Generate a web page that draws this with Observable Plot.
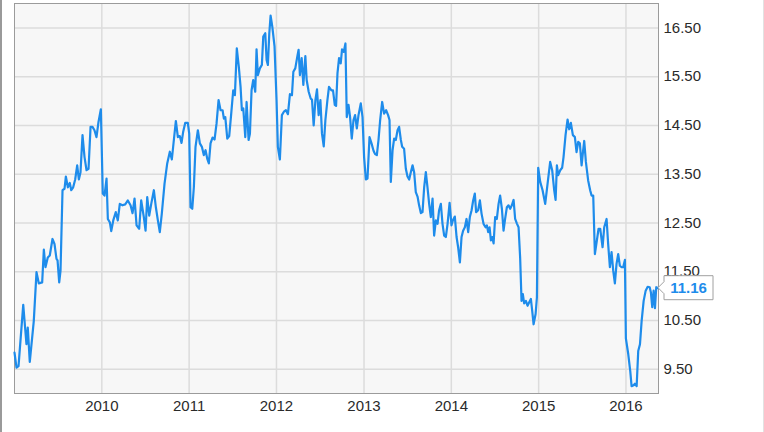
<!DOCTYPE html>
<html><head><meta charset="utf-8">
<script src="https://cdn.jsdelivr.net/npm/d3@7"></script>
<script src="https://cdn.jsdelivr.net/npm/@observablehq/plot@0.6"></script>
<style>
html,body{margin:0;padding:0;background:#fff;}
#wrap{position:relative;width:764px;height:432px;overflow:hidden;}
#wrap svg{display:block;}
.edgeL{position:absolute;left:0;top:0;width:2px;height:432px;background:#9a9a9a;}
.edgeR{position:absolute;right:0;top:0;width:1px;height:432px;background:#e2e2e2;}
</style></head><body><div id="wrap"></div>
<script>
// decimal-year time stamps
const t = [
2009.000,2009.023,2009.046,2009.100,2009.137,2009.152,2009.175,2009.221,2009.252,2009.278,
2009.317,2009.336,2009.355,2009.381,2009.404,2009.435,2009.458,2009.481,2009.493,2009.512,
2009.527,2009.550,2009.573,2009.588,2009.611,2009.633,2009.650,2009.672,2009.695,2009.718,
2009.737,2009.756,2009.779,2009.802,2009.825,2009.848,2009.871,2009.893,2009.916,2009.939,
2009.962,2009.989,2010.011,2010.031,2010.054,2010.069,2010.092,2010.108,2010.131,2010.160,
2010.183,2010.206,2010.237,2010.268,2010.298,2010.329,2010.352,2010.375,2010.398,2010.428,
2010.451,2010.481,2010.501,2010.520,2010.543,2010.566,2010.596,2010.619,2010.642,2010.664,
2010.687,2010.718,2010.749,2010.779,2010.802,2010.825,2010.848,2010.871,2010.893,2010.913,
2010.932,2010.955,2010.985,2011.001,2011.016,2011.036,2011.054,2011.073,2011.100,2011.123,
2011.146,2011.168,2011.188,2011.207,2011.226,2011.245,2011.268,2011.291,2011.314,2011.337,
2011.360,2011.383,2011.398,2011.414,2011.437,2011.459,2011.482,2011.505,2011.524,2011.546,
2011.569,2011.589,2011.604,2011.620,2011.643,2011.658,2011.681,2011.696,2011.715,2011.734,
2011.757,2011.772,2011.787,2011.810,2011.833,2011.849,2011.872,2011.887,2011.902,2011.918,
2011.933,2011.952,2011.978,2012.001,2012.016,2012.039,2012.062,2012.085,2012.108,2012.131,
2012.154,2012.177,2012.193,2012.215,2012.238,2012.253,2012.268,2012.288,2012.307,2012.330,
2012.345,2012.368,2012.391,2012.406,2012.425,2012.445,2012.463,2012.482,2012.502,2012.520,
2012.540,2012.559,2012.582,2012.600,2012.628,2012.646,2012.666,2012.681,2012.697,2012.715,
2012.734,2012.749,2012.769,2012.788,2012.803,2012.823,2012.841,2012.860,2012.880,2012.898,
2012.918,2012.937,2012.963,2012.983,2013.001,2013.021,2013.040,2013.063,2013.086,2013.109,
2013.127,2013.147,2013.166,2013.185,2013.208,2013.230,2013.253,2013.276,2013.292,2013.307,
2013.327,2013.345,2013.364,2013.384,2013.402,2013.422,2013.437,2013.459,2013.479,2013.498,
2013.517,2013.536,2013.556,2013.574,2013.593,2013.613,2013.631,2013.651,2013.670,2013.689,
2013.708,2013.727,2013.746,2013.765,2013.785,2013.803,2013.823,2013.842,2013.860,2013.880,
2013.899,2013.918,2013.937,2013.957,2013.980,2014.002,2014.017,2014.040,2014.060,2014.078,
2014.098,2014.117,2014.135,2014.155,2014.174,2014.193,2014.212,2014.232,2014.250,2014.269,
2014.284,2014.307,2014.327,2014.346,2014.369,2014.392,2014.407,2014.422,2014.438,2014.453,
2014.468,2014.484,2014.502,2014.521,2014.541,2014.559,2014.579,2014.598,2014.616,2014.636,
2014.655,2014.674,2014.693,2014.713,2014.731,2014.750,2014.770,2014.788,2014.804,2014.819,
2014.834,2014.854,2014.873,2014.892,2014.911,2014.926,2014.942,2014.965,2014.980,2014.995,
2015.018,2015.045,2015.075,2015.102,2015.132,2015.155,2015.178,2015.194,2015.209,2015.224,
2015.247,2015.269,2015.285,2015.308,2015.331,2015.350,2015.369,2015.392,2015.415,2015.434,
2015.453,2015.472,2015.492,2015.510,2015.522,2015.541,2015.567,2015.590,2015.606,2015.625,
2015.644,2015.667,2015.686,2015.705,2015.732,2015.751,2015.778,2015.796,2015.816,2015.835,
2015.854,2015.873,2015.892,2015.911,2015.930,2015.950,2015.968,2015.988,2015.999,2016.026,
2016.049,2016.064,2016.087,2016.102,2016.122,2016.140,2016.160,2016.179,2016.202,2016.225,
2016.248,2016.271,2016.285,2016.300,2016.316,2016.331,2016.346,2016.369
];
const price = [
9.84,9.53,9.56,10.82,10.01,10.35,9.65,10.49,11.49,11.26,
11.28,11.95,11.59,11.79,11.83,12.17,12.07,11.76,11.73,11.28,
11.52,13.17,13.20,13.45,13.23,13.32,13.17,13.23,13.39,13.68,
13.39,13.54,14.30,13.85,13.58,13.61,14.47,14.47,14.40,14.26,
14.57,14.83,13.10,13.06,13.41,12.58,12.51,12.33,12.55,12.72,
12.55,12.89,12.86,12.88,12.96,12.86,12.70,13.00,12.45,12.38,
12.96,12.62,12.34,13.03,12.65,12.89,13.17,12.82,12.55,12.31,
12.69,13.30,13.72,13.96,13.80,14.20,14.59,14.26,14.28,14.14,
14.37,14.55,14.55,14.33,12.82,12.79,13.23,14.06,14.40,14.13,
14.06,13.89,13.99,13.82,13.72,14.13,14.25,14.21,14.54,15.02,
14.81,14.81,14.64,14.67,14.23,14.28,14.74,15.22,15.12,16.08,
15.70,15.29,14.81,14.85,14.26,14.98,14.20,14.33,15.22,15.43,
15.19,16.06,15.53,15.67,15.74,16.32,16.39,15.84,15.74,16.39,
16.75,16.53,16.12,15.02,14.06,13.80,14.71,14.78,14.81,14.73,
15.14,15.12,15.60,15.67,15.91,16.05,15.53,15.88,15.33,15.92,
15.43,15.19,15.05,15.03,14.50,15.02,15.24,14.71,15.02,14.33,
14.07,14.61,15.02,15.29,15.22,15.22,14.92,14.90,15.57,15.88,
15.77,16.06,16.01,16.18,14.67,14.92,14.67,14.23,14.61,14.71,
14.44,14.71,14.95,14.67,13.85,13.39,13.41,14.26,14.13,13.98,
13.91,13.89,14.20,14.61,14.98,14.74,14.81,14.71,14.61,13.34,
13.99,14.23,14.20,14.40,14.47,14.20,14.06,14.02,13.61,13.45,
13.39,13.54,13.68,13.54,13.13,13.04,12.86,12.70,12.72,13.23,
13.54,13.23,12.89,12.62,13.00,12.24,12.55,12.48,12.76,12.89,
12.48,12.24,12.21,12.48,12.91,12.45,12.55,12.63,12.21,12.00,
11.69,12.21,12.34,12.41,12.58,12.31,12.62,12.76,12.96,13.10,
12.72,12.76,12.96,12.69,12.48,12.41,12.45,12.31,12.41,12.14,
12.21,12.08,12.62,12.58,12.89,13.06,12.79,12.34,12.58,12.82,
12.86,12.79,12.86,12.97,12.58,12.49,12.41,11.79,10.90,11.04,
10.85,10.90,10.80,10.87,10.94,10.70,10.42,10.63,10.97,13.63,
13.34,13.17,12.89,13.30,13.75,13.58,13.17,12.97,13.68,13.48,
13.58,13.63,13.85,14.30,14.62,14.42,14.55,14.30,14.26,13.95,
14.16,14.13,13.68,13.99,14.18,13.75,13.37,13.17,13.06,13.06,
11.86,12.14,12.38,12.38,12.00,12.41,12.58,12.07,11.59,11.90,
11.52,11.26,11.66,11.86,11.62,11.59,11.59,11.74,10.13,9.81,
9.46,9.15,9.17,9.20,9.15,9.87,10.01,10.49,10.90,11.11,
11.19,11.18,11.07,10.77,11.11,10.75,11.18,11.16
];
const xTicks = ["2010-01-01","2011-01-01","2012-01-01","2013-01-01","2014-01-01","2015-01-01","2016-01-01"];
const yTicks = [9.5, 10.5, 11.5, 12.5, 13.5, 14.5, 15.5, 16.5];
const xDomain = ["2009-01-01", "2016-05-16"];
const yDomain = [9, 17];
const lastLabel = "11.16";

function toDate(v) {
  const y = Math.floor(v);
  const a = Date.UTC(y, 0, 1), b = Date.UTC(y + 1, 0, 1);
  return new Date(a + (v - y) * (b - a));
}
const data = t.map((v, i) => ({date: toDate(v), price: price[i]}));
const last = data[data.length - 1];
const blue = "#1e8ceb";

const callout = (index, scales, values, dimensions) => {
  const g = d3.create("svg:g");
  const x0 = dimensions.width - dimensions.marginRight;
  const py = scales.y(last.price);
  const w = 49, h = 24, a = 6;
  g.append("path")
    .attr("d", `M${x0},${py} L${x0 + a},${py - a} V${py - h / 2} H${x0 + a + w} V${py + h / 2} H${x0 + a} V${py + a} Z`)
    .attr("fill", "#fff").attr("stroke", "#a0a0a0").attr("stroke-width", 1);
  g.append("text")
    .attr("x", x0 + a + w / 2).attr("y", py).attr("dy", "0.35em")
    .attr("text-anchor", "middle")
    .attr("fill", blue).attr("font-weight", "bold").attr("font-size", 15)
    .text(lastLabel);
  return g.node();
};

const chart = Plot.plot({
  width: 764, height: 432,
  marginLeft: 14, marginRight: 106, marginTop: 3, marginBottom: 39,
  style: {fontFamily: "'Liberation Sans', Arial, sans-serif", fontSize: "15px", color: "#2a2a2a", background: "transparent", overflow: "visible"},
  x: {type: "utc", domain: xDomain.map(d => new Date(d)), label: null},
  y: {domain: yDomain, label: null},
  marks: [
    Plot.frame({fill: "#f7f7f7", stroke: null}),
    Plot.gridX(xTicks.map(d => new Date(d)), {stroke: "#dcdcdc", strokeOpacity: 1, strokeWidth: 1.5}),
    Plot.gridY(yTicks, {stroke: "#dcdcdc", strokeOpacity: 1, strokeWidth: 1.5}),
    Plot.frame({stroke: "#9b9b9b", strokeWidth: 1}),
    Plot.lineY(data, {x: "date", y: "price", stroke: blue, strokeWidth: 2.2}),
    Plot.axisX(xTicks.map(d => new Date(d)), {tickSize: 0, tickPadding: 7, fontSize: 15, tickFormat: d3.utcFormat("%Y"), label: null}),
    Plot.axisY(yTicks, {anchor: "right", tickSize: 0, tickPadding: 5, fontSize: 15, tickFormat: d3.format(".2f"), label: null}),
    callout
  ]
});
const wrap = document.getElementById("wrap");
wrap.appendChild(chart);
const l = document.createElement("div"); l.className = "edgeL"; wrap.appendChild(l);
const r = document.createElement("div"); r.className = "edgeR"; wrap.appendChild(r);
</script>
</body></html>
